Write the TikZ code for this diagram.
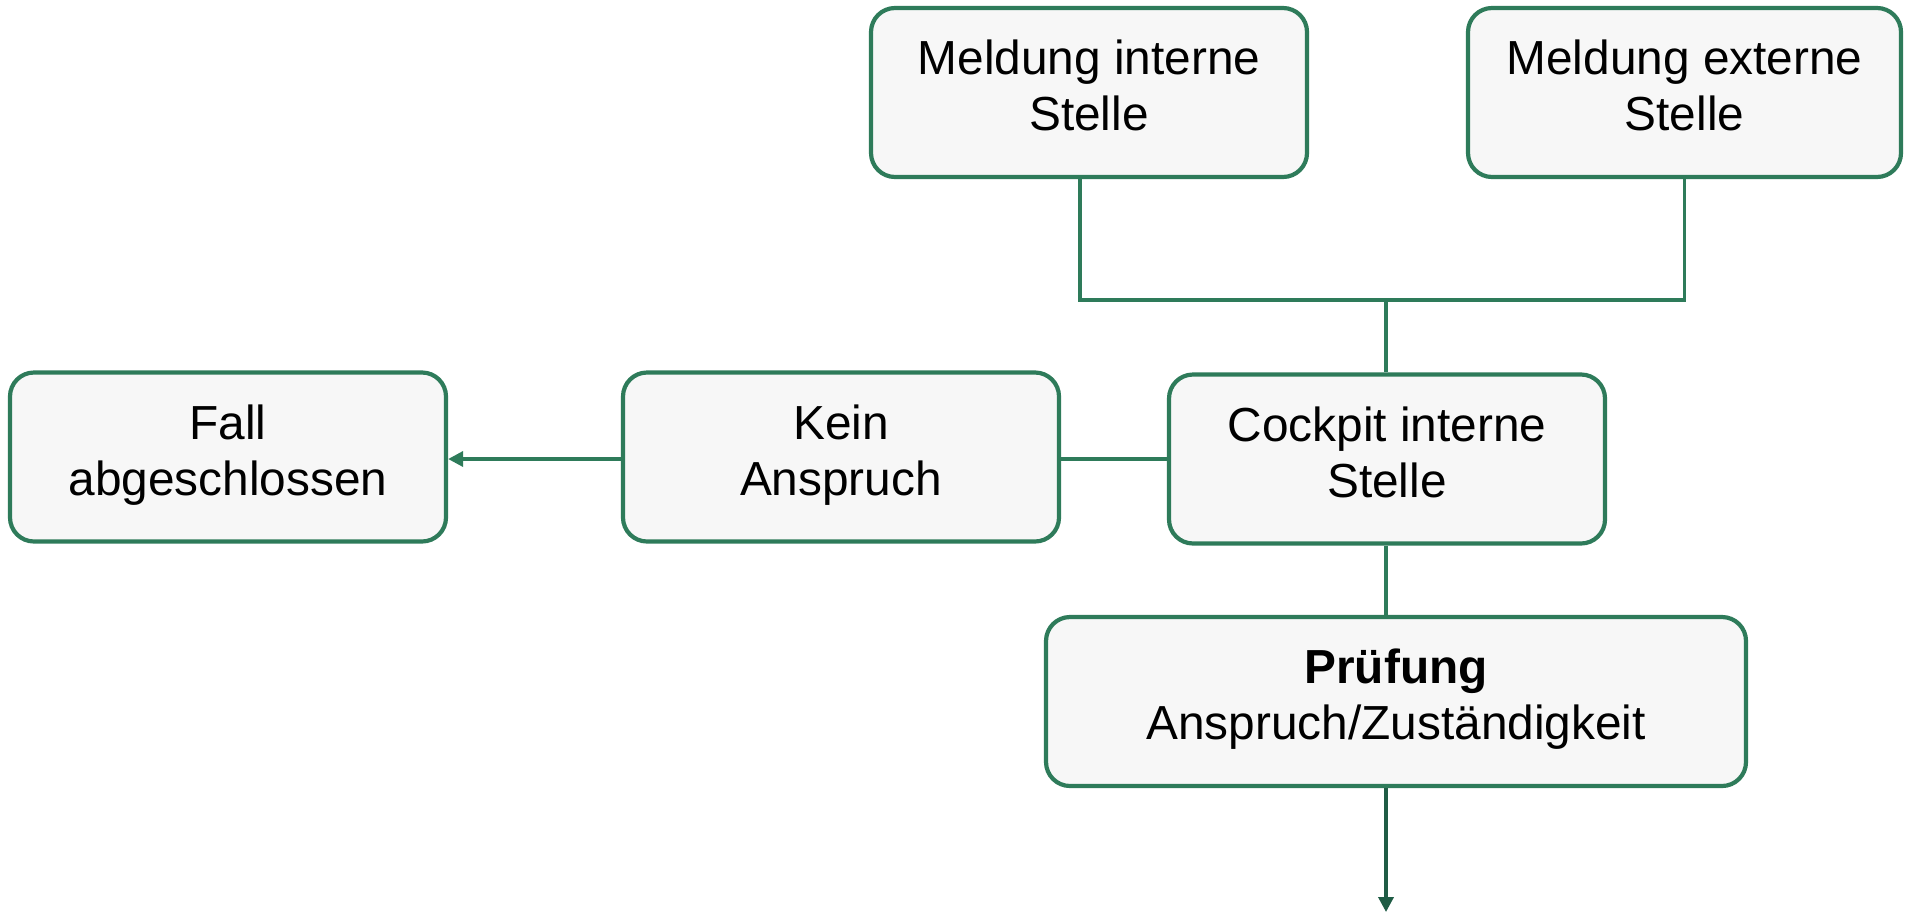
\documentclass[tikz,border=0pt]{standalone}
\usepackage{fontspec}
\setmainfont{Liberation Sans}
\usetikzlibrary{arrows.meta}
\definecolor{gline}{HTML}{2E7B5A}
\definecolor{gdark}{HTML}{1F5C45}
\definecolor{boxfill}{HTML}{F7F7F7}
\begin{document}
\begin{tikzpicture}[x=1pt,y=-1pt,
  box/.style={draw=gline,line width=4.2pt,fill=boxfill,rounded corners=24pt,
    minimum width=#1,minimum height=169pt,align=center,inner sep=0pt,
    text height=90pt,text depth=14pt,
    font=\fontsize{47.8}{56}\selectfont},
  box/.default=436pt,
  conn/.style={draw=gline,line width=3.5pt},
  tip/.style={-{Triangle[width=15pt,length=15pt]}}]
\useasboundingbox (0,0) rectangle (1905,914);
\node[box] (mi) at (1089,92.5) {Meldung interne\\Stelle};
\node[box=433pt] (me) at (1684.5,92.5) {Meldung externe\\Stelle};
\node[box] (fa) at (228,457) {Fall\\abgeschlossen};
\node[box] (ka) at (841,457) {Kein\\Anspruch};
\node[box] (cp) at (1387,459) {Cockpit interne\\Stelle};
\node[box=700pt] (pr) at (1396,701.5) {\textbf{Prüfung}\\Anspruch/Zuständigkeit};
\coordinate (j) at (1386,300);
\coordinate (end) at (1386,912);
\draw[conn] (1080,177) |- (j) -| (me.south);
\draw[conn] (j) -- (j |- cp.north);
\draw[conn] (cp.west |- 0,459) -- (ka.east |- 0,459);
\draw[conn,tip,draw=gline,fill=gline] (ka.west |- 0,459) -- (fa.east |- 0,459);
\draw[conn] (cp.south -| j) -- (pr.north -| j);
\draw[conn,tip,draw=gdark,fill=gdark] (pr.south -| j) -- (end);
\end{tikzpicture}
\end{document}
